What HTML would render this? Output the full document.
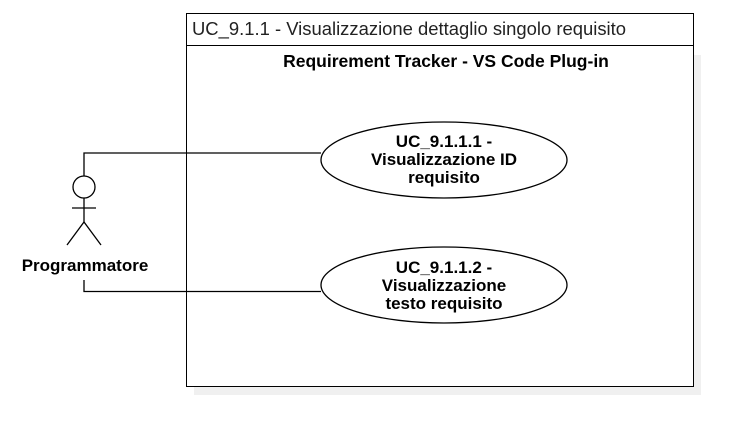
<!DOCTYPE html>
<html><head><meta charset="utf-8"><style>
body{margin:0;background:#fff;}
svg{display:block;font-family:"Liberation Sans",Arial,sans-serif;}
</style></head><body>
<svg width="747" height="439" viewBox="0 0 747 439">
<rect x="194" y="55" width="507" height="340" fill="#f0f0f0"/>
<rect x="186.5" y="13.5" width="507" height="373" fill="#fff" stroke="#000"/>
<line x1="186.5" y1="45.5" x2="693.5" y2="45.5" stroke="#000"/>
<text x="192" y="35" font-size="18" fill="#222" textLength="434" lengthAdjust="spacingAndGlyphs">UC_9.1.1 - Visualizzazione dettaglio singolo requisito</text>
<text x="446" y="67" font-size="17.5" font-weight="bold" text-anchor="middle">Requirement Tracker - VS Code Plug-in</text>
<g stroke="#000" fill="none" stroke-width="1.3">
<polyline points="84,176 84,153 321,153"/>
<polyline points="84,280 84,291.5 321,291.5"/>
<circle cx="84" cy="187" r="11" fill="#fff"/>
<line x1="84" y1="198" x2="84" y2="222"/>
<line x1="72" y1="208" x2="96" y2="208"/>
<polyline points="67,245 84,222 101,245"/>
<ellipse cx="444" cy="160" rx="123" ry="38" fill="#fff"/>
<ellipse cx="444" cy="285" rx="123" ry="38" fill="#fff"/>
</g>
<text x="85" y="271" font-size="17" font-weight="bold" text-anchor="middle">Programmatore</text>
<g font-size="17" font-weight="bold" text-anchor="middle">
<text x="444" y="147">UC_9.1.1.1 -</text>
<text x="444" y="165">Visualizzazione ID</text>
<text x="444" y="183">requisito</text>
<text x="444" y="273">UC_9.1.1.2 -</text>
<text x="444" y="291">Visualizzazione</text>
<text x="444" y="309">testo requisito</text>
</g>
</svg>
</body></html>
